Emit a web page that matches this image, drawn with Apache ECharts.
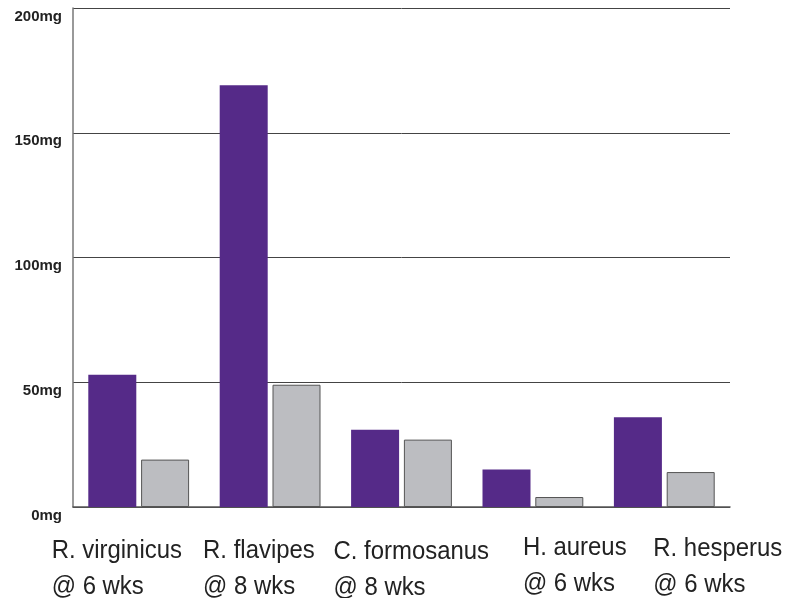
<!DOCTYPE html>
<html>
<head>
<meta charset="utf-8">
<script src="https://cdn.jsdelivr.net/npm/echarts@6/dist/echarts.min.js"></script>
<style>
  html, body { margin: 0; padding: 0; background: #fff; }
  #chart { width: 796px; height: 598px; }
</style>
</head>
<body>
<div id="chart"></div>
<script>
// species / duration labels
const species = ["R. virginicus", "R. flavipes", "C. formosanus", "H. aureus", "R. hesperus"];
const weeks = ["@ 6 wks", "@ 8 wks", "@ 8 wks", "@ 6 wks", "@ 6 wks"];

// mg values
const purpleValues = [53, 169, 31, 15, 36];
const greyValues = [19, 49, 27, 4, 14];

const yTicks = [0, 50, 100, 150, 200];

// label placement relative to band centre (layout only)
const labelDx = [-87, -67, -68, -10, -11];
const labelDy = [26, 26, 27, 23, 24];

const chart = echarts.init(document.getElementById("chart"));

chart.setOption({
  animation: false,
  grid: { left: 73, right: 66, top: 8, bottom: 91 },
  xAxis: {
    type: "category",
    data: species,
    axisTick: { show: false },
    axisLabel: { show: false },
    axisLine: { lineStyle: { color: "#555", width: 1.5 } }
  },
  yAxis: {
    type: "value",
    min: yTicks[0],
    max: yTicks[yTicks.length - 1],
    interval: 50,
    axisLine: { show: true, lineStyle: { color: "#777", width: 1.5 } },
    axisTick: { show: false },
    splitLine: { lineStyle: { color: "#444", width: 1 } },
    axisLabel: {
      formatter: "{value}mg",
      margin: 11,
      verticalAlign: "top",
      padding: [1, 0, 0, 0],
      color: "#222",
      fontSize: 15,
      fontWeight: "bold",
      fontFamily: "'Liberation Sans', Arial, sans-serif"
    }
  },
  series: [
    {
      type: "bar",
      data: purpleValues,
      barWidth: 48,
      barGap: "10%",
      itemStyle: { color: "#552a88" }
    },
    {
      type: "bar",
      data: greyValues,
      barWidth: 48,
      itemStyle: { color: "#bcbdc1", borderColor: "#555", borderWidth: 1 }
    }
  ]
});

// category labels placed from the axis scale
function placeLabels() {
  const y0 = chart.convertToPixel({ yAxisIndex: 0 }, 0);
  const items = species.map(function (name, i) {
    const cx = chart.convertToPixel({ xAxisIndex: 0 }, i);
    return {
      type: "text",
      x: cx + labelDx[i],
      y: y0 + labelDy[i],
      scaleX: 0.92,
      style: {
        text: name + "\n" + weeks[i],
        fill: "#222",
        fontSize: 26,
        lineHeight: 36,
        fontFamily: "'Liberation Sans', Arial, sans-serif",
        align: "left",
        verticalAlign: "top"
      }
    };
  });
  chart.setOption({ graphic: items });
}
placeLabels();
</script>
</body>
</html>
